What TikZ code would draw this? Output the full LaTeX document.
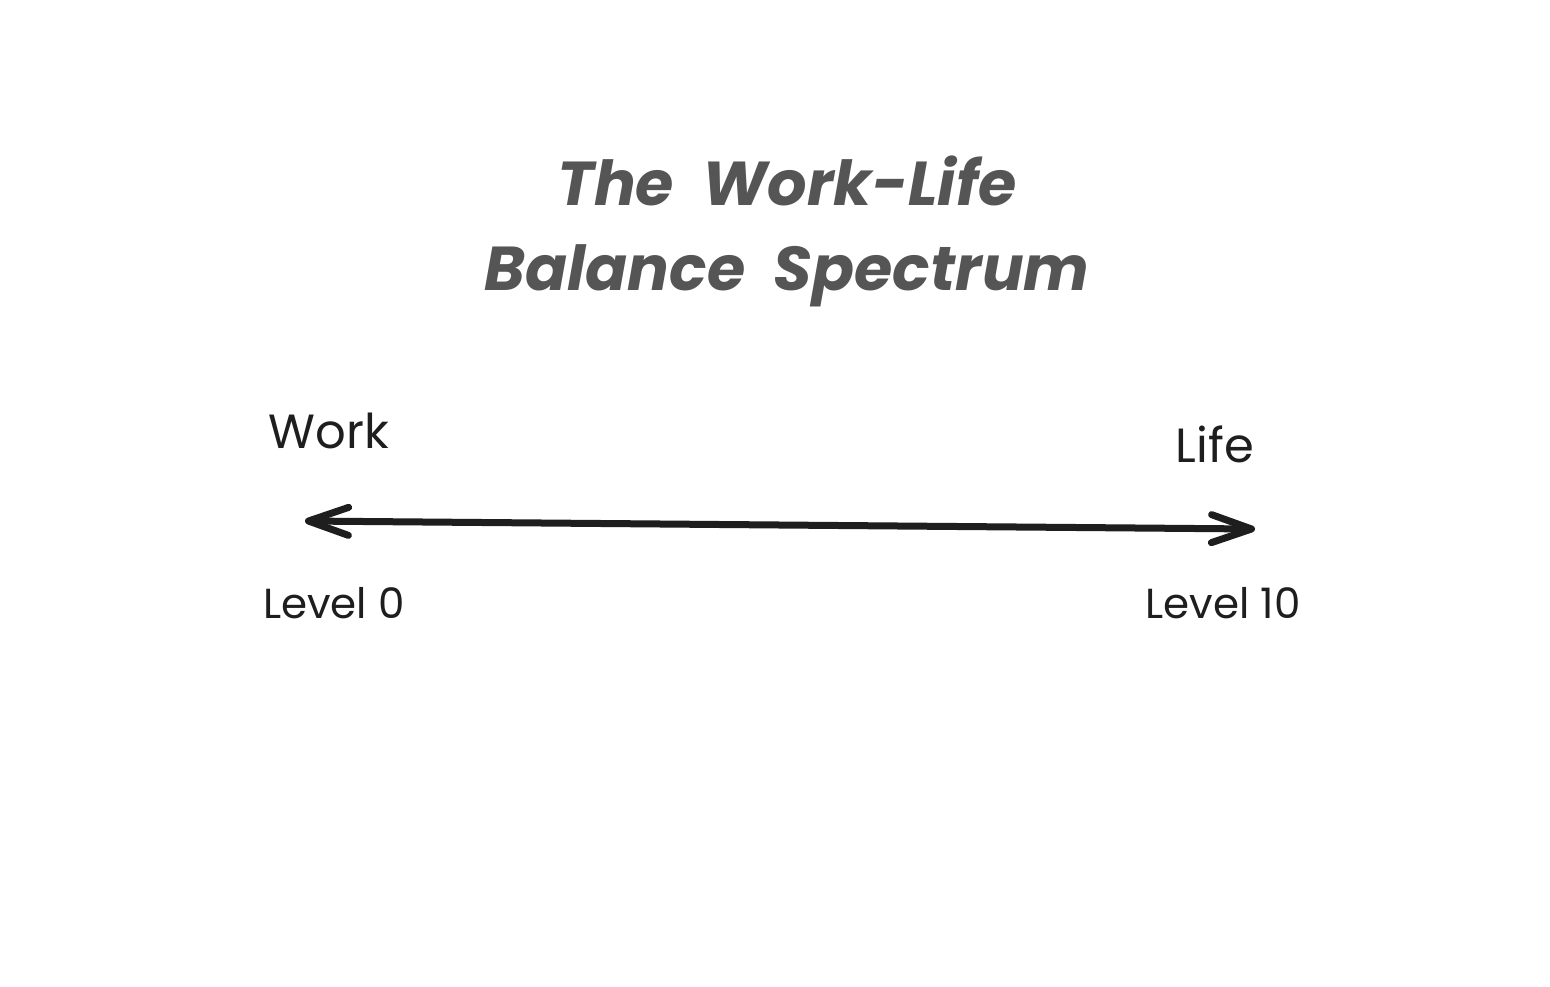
\documentclass[tikz,border=0pt]{standalone}
\usepackage{fontspec}
\setmainfont{Poppins}
\newfontfamily\titlefont[WordSpace=2.0]{Poppins}
\usetikzlibrary{arrows.meta}
\definecolor{ink}{HTML}{1E1E1E}
\definecolor{titlegray}{HTML}{555555}
\tikzset{
  titletext/.style={text=titlegray, font=\titlefont\fontsize{62}{85}\selectfont\bfseries\itshape, align=center, inner sep=0pt},
  label/.style={text=ink, font=\fontsize{42}{50}\selectfont, inner sep=0pt},
  endlabel/.style={label, font=\fontsize{48}{56}\selectfont},
  barbtip/.tip={Straight Barb[length=40pt,width=28pt,line width=7pt,round]},
  spectrum/.style={draw=ink, line width=7pt, line cap=round, barbtip-barbtip}
}
\begin{document}
\begin{tikzpicture}[x=1pt,y=-1pt]
\useasboundingbox[fill=white] (0,0) rectangle (1550,986);
\node[titletext] (title) at (787,231) {The Work-Life\\Balance Spectrum};
\node[endlabel] (work) at (329,431) {Work};
\node[endlabel] (life) at (1215,444) {Life};
\node[label] (lvl0) at (334,603) {Level 0};
\node[label] (lvl10) at (1223,603) {Level 10};
\coordinate (left) at (305,521);
\coordinate (right) at (1255,529);
\draw[spectrum] (left) -- (right);
\end{tikzpicture}
\end{document}
